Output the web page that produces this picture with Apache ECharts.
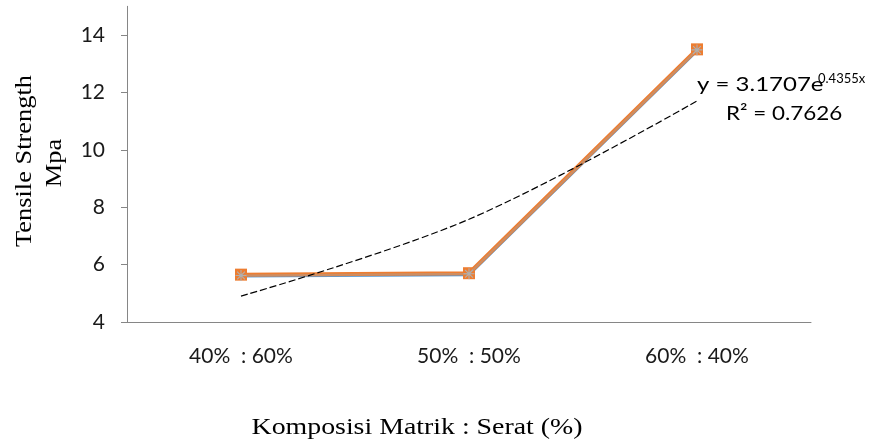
<!DOCTYPE html>
<html>
<head>
<meta charset="utf-8">
<script src="https://cdn.jsdelivr.net/npm/echarts@6/dist/echarts.min.js"></script>
<style>html,body{margin:0;padding:0;background:#fff}#c{width:873px;height:444px}</style>
</head>
<body>
<div id="c"></div>
<script>
// ---- data ----
const categories = ['40%  : 60%', '50%  : 50%', '60%  : 40%'];
const seriesBlue = [5.6, 5.65, 13.45];
const seriesOrange = [5.65, 5.7, 13.5];
const seriesGray = [5.62, 5.68, 13.48];
const trendValues = [4.9, 7.58, 11.7];
const yTicks = [4, 6, 8, 10, 12, 14];
const eqMain = 'y = 3.1707e';
const eqSup = '0.4355x';
const eqR2 = 'R² = 0.7626';
const yName1 = 'Tensile Strength';
const yName2 = 'Mpa';
const xName = 'Komposisi Matrik : Serat (%)';

const asterisk = 'path://M4.5,0h1v10h-1z M0,4.5h10v1h-10z M1.1,1.8l0.7,-0.7l7.1,7.1l-0.7,0.7z M8.2,1.1l0.7,0.7l-7.1,7.1l-0.7,-0.7z';
const sans = 'Lato';
const serif = 'Liberation Serif';

const chart = echarts.init(document.getElementById('c'), null, {renderer: 'canvas'});
chart.setOption({
  animation: false,
  backgroundColor: '#fff',
  grid: {left: 127, right: 62, top: 6.3, bottom: 122, containLabel: false},
  xAxis: {
    type: 'category',
    data: categories,
    boundaryGap: true,
    axisLine: {lineStyle: {color: '#868686', width: 1}},
    axisTick: {show: false},
    axisLabel: {margin: 24, fontFamily: sans, fontSize: 21, color: '#1a1a1a'},
    splitLine: {show: false}
  },
  yAxis: {
    type: 'value',
    min: 4, max: 15, interval: 2,
    axisLine: {show: true, lineStyle: {color: '#868686', width: 1}},
    axisTick: {show: true, length: 6, lineStyle: {color: '#868686'}, customValues: yTicks},
    axisLabel: {margin: 22, fontFamily: sans, fontSize: 21, color: '#1a1a1a', customValues: yTicks},
    splitLine: {show: false}
  },
  series: [
    {
      type: 'line', data: seriesBlue, z: 2,
      lineStyle: {color: '#5B9BD5', width: 3},
      symbol: 'none'
    },
    {
      type: 'line', data: seriesOrange, z: 3,
      lineStyle: {color: '#ED7D31', width: 4},
      symbol: 'rect', symbolSize: 12,
      itemStyle: {color: '#ED7D31'}
    },
    {
      type: 'line', data: seriesGray, z: 4,
      lineStyle: {color: '#A5A5A5', width: 2, opacity: 0.45},
      symbol: asterisk, symbolSize: 11,
      itemStyle: {color: '#B0B0B0'}
    },
    {
      type: 'line', data: trendValues, z: 5, smooth: 0.35,
      lineStyle: {color: '#000', width: 1.2, type: [7, 3]},
      symbol: 'none'
    }
  ],
  graphic: [
    {type: 'text', x: 697, y: 85, scaleX: 1.2, style: {text: eqMain, font: '20px ' + sans, fill: '#000', textVerticalAlign: 'middle', textAlign: 'left'}},
    {type: 'text', x: 818, y: 79, style: {text: eqSup, font: '13px ' + sans, fill: '#000', textVerticalAlign: 'middle', textAlign: 'left'}},
    {type: 'text', x: 726, y: 114, scaleX: 1.12, style: {text: eqR2, font: '20px ' + sans, fill: '#000', textVerticalAlign: 'middle', textAlign: 'left'}},
    {type: 'text', x: 25, y: 161, rotation: Math.PI / 2, scaleX: 1.1, style: {text: yName1, font: '24px ' + serif, fill: '#000', textAlign: 'center', textVerticalAlign: 'middle'}},
    {type: 'text', x: 55, y: 163, rotation: Math.PI / 2, scaleX: 1.1, style: {text: yName2, font: '24px ' + serif, fill: '#000', textAlign: 'center', textVerticalAlign: 'middle'}},
    {type: 'text', x: 417, y: 428, scaleX: 1.16, style: {text: xName, font: '24px ' + serif, fill: '#000', textAlign: 'center', textVerticalAlign: 'middle'}}
  ]
});
</script>
</body>
</html>
